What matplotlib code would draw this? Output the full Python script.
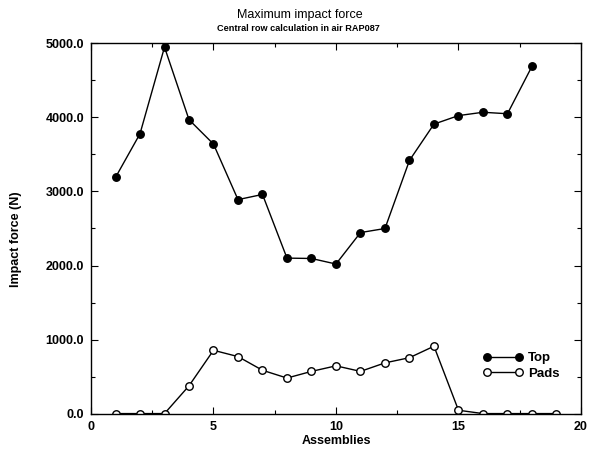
import matplotlib.pyplot as plt
from matplotlib.ticker import MultipleLocator, FormatStrFormatter

plt.rcParams["font.family"] = ["Liberation Sans", "DejaVu Sans"]

assemblies = list(range(1, 20))
top_force = [3190, 3780, 4950, 3970, 3640, 2890, 2960, 2100, 2095, 2020,
             2445, 2500, 3420, 3910, 4025, 4070, 4050, 4690]
pads_force = [0, 0, 0, 375, 855, 770, 585, 480, 570, 645,
              570, 685, 755, 910, 45, 0, 0, 0, 0]


def main():
    fig = plt.figure(figsize=(5.91, 4.57), dpi=100)
    ax = fig.add_axes([0.154, 0.095, 0.829, 0.81])

    ax.plot(assemblies[:len(top_force)], top_force, color="black", lw=1.0,
            marker="o", ms=5.4, mfc="black", mec="black", label="Top")
    ax.plot(assemblies, pads_force, color="black", lw=1.0,
            marker="o", ms=5.4, mfc="white", mec="black", mew=1.0,
            label="Pads")

    ax.set_xlim(0, 20)
    ax.set_ylim(0, 5000)
    ax.xaxis.set_major_locator(MultipleLocator(5))
    ax.xaxis.set_minor_locator(MultipleLocator(2.5))
    ax.yaxis.set_major_locator(MultipleLocator(1000))
    ax.yaxis.set_minor_locator(MultipleLocator(500))
    ax.yaxis.set_major_formatter(FormatStrFormatter("%.1f"))
    ax.tick_params(which="both", direction="in", top=True, right=True,
                   width=0.8, labelsize=9)
    ax.tick_params(which="major", length=5, pad=5)
    ax.tick_params(which="minor", length=3)
    for lab in ax.get_xticklabels() + ax.get_yticklabels():
        lab.set_fontweight("bold")
    for sp in ax.spines.values():
        sp.set_linewidth(1.0)

    ax.set_xlabel("Assemblies", fontsize=9, fontweight="bold", labelpad=2)
    ax.set_ylabel("Impact force (N)", fontsize=9, fontweight="bold")
    ax.yaxis.set_label_coords(-0.14, 0.47)

    fig.text(0.507, 0.968, "Maximum impact force", ha="center", va="center",
             fontsize=9)
    fig.text(0.505, 0.938, "Central row calculation in air RAP087",
             ha="center", va="center", fontsize=6.6, fontweight="bold")

    ax.legend(loc="upper left", bbox_to_anchor=(0.8, 0.166), frameon=False,
              numpoints=2, handlelength=3.0, handletextpad=0.4,
              labelspacing=0.25, borderpad=0, borderaxespad=0,
              prop={"size": 9.5, "weight": "bold"})

    fig.savefig("out.png", dpi=100)
    plt.close(fig)


if __name__ == "__main__":
    main()
